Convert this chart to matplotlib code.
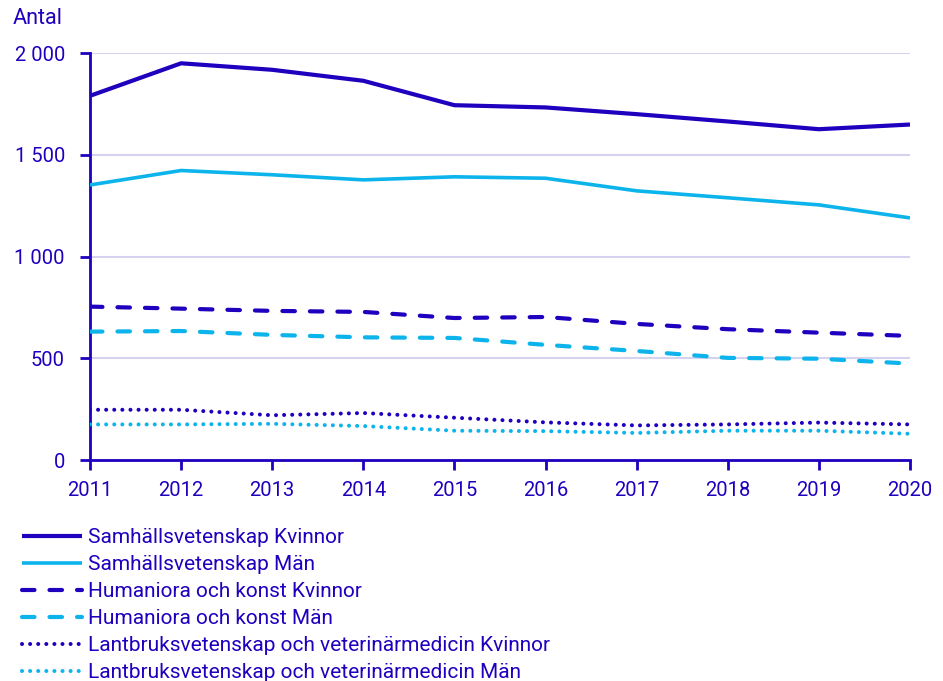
import matplotlib.pyplot as plt
from matplotlib import rcParams

rcParams['font.family'] = ['Roboto', 'DejaVu Sans']
rcParams['font.size'] = 14

DARK = '#1e00be'
LIGHT = '#0cb4eb'
GRID = '#d4d2ee'

years = [2011, 2012, 2013, 2014, 2015, 2016, 2017, 2018, 2019, 2020]

samh_kvinnor = [1790, 1950, 1918, 1864, 1744, 1733, 1700, 1664, 1626, 1649]
samh_man = [1352, 1423, 1402, 1377, 1392, 1385, 1323, 1289, 1254, 1190]
hum_kvinnor = [754, 744, 733, 728, 698, 703, 669, 643, 626, 610]
hum_man = [631, 634, 615, 603, 600, 566, 536, 502, 498, 474]
lant_kvinnor = [247, 247, 220, 231, 208, 185, 170, 175, 184, 175]
lant_man = [175, 175, 178, 167, 144, 142, 133, 144, 144, 129]

labels = [
    'Samhällsvetenskap Kvinnor',
    'Samhällsvetenskap Män',
    'Humaniora och konst Kvinnor',
    'Humaniora och konst Män',
    'Lantbruksvetenskap och veterinärmedicin Kvinnor',
    'Lantbruksvetenskap och veterinärmedicin Män',
]

fig = plt.figure(figsize=(9.43, 6.81), dpi=100)
ax = fig.add_axes([0.0954, 0.3245, 0.8696, 0.5975])

# solid lines
ax.plot(years, samh_kvinnor, color=DARK, lw=3.0, label=labels[0],
        solid_capstyle='butt', zorder=5)
ax.plot(years, samh_man, color=LIGHT, lw=2.6, label=labels[1],
        solid_capstyle='butt', zorder=5)

# dashed lines
ax.plot(years, hum_kvinnor, color=DARK, lw=3.0, dashes=(3.0, 3.6),
        dash_capstyle='round', label=labels[2], zorder=5)
ax.plot(years, hum_man, color=LIGHT, lw=3.0, dashes=(3.0, 3.6),
        dash_capstyle='round', label=labels[3], zorder=5)

# dotted lines
ax.plot(years, lant_kvinnor, color=DARK, lw=2.9, dashes=(0.01, 2.0),
        dash_capstyle='round', label=labels[4], zorder=5)
ax.plot(years, lant_man, color=LIGHT, lw=2.9, dashes=(0.01, 2.0),
        dash_capstyle='round', label=labels[5], zorder=5)

ax.set_xlim(2011, 2020)
ax.set_ylim(0, 2000)
ax.set_xticks(years)
ax.set_yticks([0, 500, 1000, 1500, 2000])
ax.set_yticklabels(['0', '500', '1 000', '1 500', '2 000'])

ax.grid(axis='y', color=GRID, lw=1.5)
ax.set_axisbelow(True)
for side in ['top', 'right']:
    ax.spines[side].set_visible(False)
for side in ['left', 'bottom']:
    ax.spines[side].set_color(DARK)
    ax.spines[side].set_linewidth(2)
ax.spines['bottom'].set_zorder(6)

ax.tick_params(axis='both', colors=DARK, labelcolor=DARK, labelsize=14.5,
               length=7, width=2, direction='out')
ax.tick_params(axis='x', pad=8)
ax.tick_params(axis='y', pad=11)

fig.text(0.013, 0.973, 'Antal', color=DARK, fontsize=15.5, va='center', ha='left')

leg = fig.legend(loc='upper left', bbox_to_anchor=(0.023, 0.224), frameon=False,
                 fontsize=15, handlelength=2.9, handletextpad=0.3,
                 labelspacing=0.38, borderaxespad=0, borderpad=0)
for t in leg.get_texts():
    t.set_color(DARK)

fig.savefig('out.png', dpi=100)
